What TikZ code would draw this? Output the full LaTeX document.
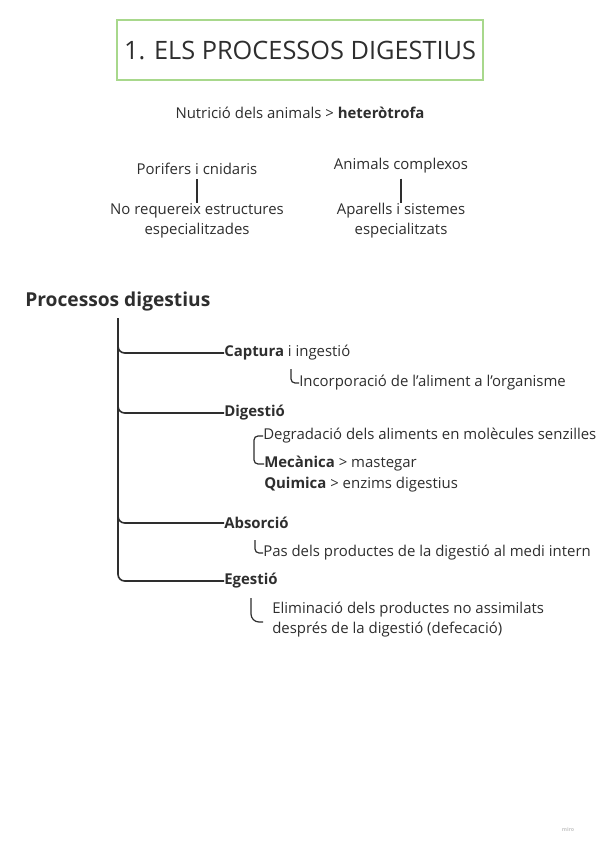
\documentclass[tikz,border=0pt]{standalone}
\usepackage{fontspec}
\setmainfont{Open Sans}
\usepackage{xcolor}
\definecolor{frameGreen}{HTML}{A8D88C}
\definecolor{inkGray}{HTML}{2E2E2E}
\definecolor{markGray}{HTML}{C8C8C8}

\begin{document}
\begin{tikzpicture}[x=0.75pt,y=-0.75pt,
  txt/.style={inner sep=0pt, text=inkGray, font=\fontsize{11.2}{15}\selectfont},
  item/.style={txt, anchor=west, font=\fontsize{11.2}{15}\selectfont\bfseries},
  branch/.style={draw=inkGray, line width=1.2pt, rounded corners=5pt},
  hook/.style={draw=inkGray, line width=0.9pt, rounded corners=3pt},
  tick/.style={draw=inkGray, line width=1pt}]
  \useasboundingbox[fill=white] (0,0) rectangle (600,848);

  % title
  \node[draw=frameGreen, line width=1.5pt, minimum width=274.5pt, minimum height=45pt,
        inner sep=0pt, text=inkGray, font=\fontsize{19}{22}\selectfont] (title) at (300,50) {1. ELS PROCESSOS DIGESTIUS};
  \node[txt] (nutri) at (300,113) {Nutrició dels animals > \textbf{heteròtrofa}};

  % two groups
  \node[txt] (pori) at (197,169) {Porifers i cnidaris};
  \node[txt, align=center] (noreq) at (197,221) {No requereix estructures\\especialitzades};
  \draw[tick] (pori.south) ++(0,4) coordinate (p1) -- (p1 |- noreq.north);
  \node[txt] (compl) at (401,166) {Animals complexos};
  \node[txt, align=center] (apar) at (401,221) {Aparells i sistemes\\especialitzats};
  \draw[tick] (compl.south) ++(0,5) coordinate (c1) -- (c1 |- apar.north);

  % processos
  \node[txt, anchor=west, font=\fontsize{14.4}{17}\selectfont\bfseries] (proc) at (25,302) {Processos digestius};
  \coordinate (trunk) at (118,318);
  \node[item] (capt) at (224,353) {Captura \mdseries i ingestió};
  \node[item] (dige) at (224,413) {Digestió};
  \node[item] (abso) at (224,523) {Absorció};
  \node[item] (eges) at (224,581) {Egestió};
  \foreach \b in {capt,dige,abso,eges}
    \draw[branch] (trunk) |- (\b.west);

  % captura
  \node[txt, anchor=west] (incorp) at (299,383) {Incorporació de l'aliment a l'organisme};
  \coordinate (captHook) at (291,369);
  \draw[hook] (captHook) |- (incorp.west);

  % digestio
  \node[txt, anchor=west] (degr) at (263,436) {Degradació dels aliments en molècules senzilles};
  \node[txt, anchor=west] (meca) at (264,464) {\textbf{Mecànica} > mastegar};
  \node[txt, anchor=west] (quim) at (264,485) {\textbf{Quimica} > enzims digestius};
  \coordinate (digeHook) at (254,450);
  \draw[hook] (degr.west) -| (digeHook) |- (meca.west);

  % absorcio
  \node[txt, anchor=west] (pas) at (263,553) {Pas dels productes de la digestió al medi intern};
  \coordinate (absoHook) at (255,540);
  \draw[hook] (absoHook) |- (pas.west);

  % egestio
  \node[txt, anchor=north west, align=left] (elim) at (272,602) {Eliminació dels productes no assimilats\\després de la digestió (defecació)};
  \coordinate (egesHook) at (251,598);
  \coordinate (egesEnd) at (263,622);
  \draw[hook, rounded corners=6pt] (egesHook) |- (egesEnd);

  \node[inner sep=0pt, text=markGray, font=\fontsize{4}{5}\selectfont\bfseries] (mark) at (568,829) {miro};
\end{tikzpicture}
\end{document}
